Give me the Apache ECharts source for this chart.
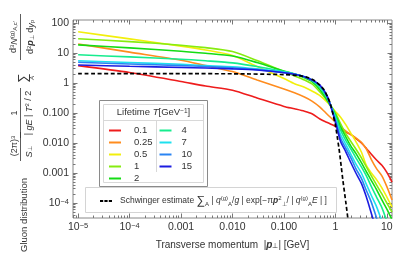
<!DOCTYPE html>
<html><head><meta charset="utf-8">
<script src="https://cdn.jsdelivr.net/npm/echarts@6/dist/echarts.min.js"></script>
<style>html,body{margin:0;padding:0;background:#fff}#c{width:415px;height:257px}</style>
</head><body><div id="c"></div>
<script>
// ---- data ----
const PT = [1e-5, 1e-4, 1e-3, 0.003, 0.01, 0.03, 0.1, 0.16, 0.25, 0.35, 0.5, 0.7, 1, 1.25, 1.6, 2, 2.5, 3.2, 4, 5, 6.3, 8, 10, 12.6];
const LIFETIMES = ['0.1', '0.25', '0.5', '1', '2', '4', '7', '10', '15'];
const G_T0_1  = [3.8, 2.24, 1.12, 0.79, 0.575, 0.316, 0.166, 0.138, 0.115, 0.095, 0.063, 0.048, 0.0355, 0.028, 0.0234, 0.019, 0.0141, 0.0100, 0.0066, 0.0042, 0.0027, 0.0018, 0.00105, 0.0005];
const G_T0_25 = [20, 10.7, 5.75, 3.8, 2.4, 1.26, 0.63, 0.47, 0.34, 0.25, 0.158, 0.089, 0.05, 0.035, 0.025, 0.019, 0.0148, 0.0105, 0.0063, 0.0028, 0.0014, 0.0008, 0.00035, 0.000126];
const G_T0_5  = [51, 29.5, 17, 12.6, 8.3, 3.55, 1.41, 0.95, 0.72, 0.54, 0.38, 0.224, 0.112, 0.074, 0.04, 0.021, 0.0112, 0.005, 0.0018, 0.001, 0.0006, 0.00032, 0.000158, 0.000074];
const G_T1    = [30, 24, 18.2, 15.1, 11.2, 5.6, 2.4, 1.74, 1.26, 0.93, 0.5, 0.25, 0.1, 0.045, 0.02, 0.0112, 0.0063, 0.0032, 0.0016, 0.0008, 0.0004, 0.0002, 0.0001, 0.00005];
const G_T2    = [18.6, 14.8, 11.5, 9.8, 7.9, 4.8, 2.5, 2.0, 1.5, 1.12, 0.6, 0.26, 0.089, 0.035, 0.0158, 0.0079, 0.0045, 0.0022, 0.0011, 0.00056, 0.00028, 0.000126, 0.000063, 0.000028];
const G_T4    = [8.7, 7.4, 6.2, 5.5, 4.7, 3.55, 2.4, 2.0, 1.58, 1.2, 0.71, 0.3, 0.079, 0.028, 0.012, 0.0063, 0.0032, 0.0016, 0.0008, 0.00035, 0.000158, 0.00007, 0.000025, 0.00001];
const G_T7    = [5.5, 4.8, 4.2, 3.8, 3.5, 2.95, 2.3, 2.0, 1.62, 1.26, 0.79, 0.33, 0.066, 0.02, 0.0089, 0.0042, 0.002, 0.001, 0.00042, 0.000178, 0.000076, 0.000025, 0.00001, 0.000004];
const G_T10   = [4.9, 4.3, 3.8, 3.55, 3.2, 2.8, 2.24, 2.0, 1.62, 1.26, 0.83, 0.34, 0.056, 0.015, 0.0066, 0.0032, 0.0014, 0.00066, 0.00026, 0.000105, 0.000032, 0.00001, 0.000004, 0.000002];
const G_T15   = [4.0, 3.6, 3.3, 3.15, 2.95, 2.7, 2.2, 1.95, 1.62, 1.26, 0.85, 0.35, 0.05, 0.0117, 0.005, 0.0022, 0.001, 0.00045, 0.000158, 0.000045, 0.0000126, 0.000004, 0.000002, 0.000001];
const PT_SCHWINGER = [1e-5, 1e-4, 1e-3, 0.01, 0.1, 0.2, 0.3, 0.4, 0.5, 0.6, 0.7, 0.8, 0.9, 1.0, 1.1, 1.2, 1.3, 1.4, 1.6, 1.8, 2.0];
const G_SCHWINGER  = [2.04, 2.04, 2.04, 2.03, 1.9, 1.75, 1.5, 1.17, 0.83, 0.6, 0.355, 0.2, 0.089, 0.04, 0.014, 0.005, 0.0016, 0.00056, 0.0001, 0.00002, 0.000004];
const SERIES_VALUES = [G_T0_1, G_T0_25, G_T0_5, G_T1, G_T2, G_T4, G_T7, G_T10, G_T15];
const X_TICKS = [1e-5, 1e-4, 1e-3, 1e-2, 0.1, 1, 10];
const X_TICK_LABELS = ['{b|10}{s|−5}', '{b|10}{s|−4}', '0.001', '0.010', '0.100', '1', '10'];
const Y_TICKS = [1e-4, 1e-3, 1e-2, 0.1, 1, 10, 100];
const Y_TICK_LABELS = ['{b|10}{s|−4}', '0.001', '0.010', '0.100', '1', '10', '100'];

// ---- styling ----
const COLORS = ['#ee1c1c', '#ff8c1e', '#f2ef0c', '#86ec10', '#14dc14', '#16ec8e', '#1ee0ee', '#2a84f2', '#1c1ce0'];
const FONT = '"Liberation Sans", Arial, sans-serif';
const TXT = '#333';
const AXC = '#777';
const X_MIN = Math.pow(10, -5.1), X_MAX = Math.pow(10, 1.1);
const Y_MIN = Math.pow(10, -4.5), Y_MAX = Math.pow(10, 2.1);

function minorTicks(lo, hi) {
  const out = [];
  for (let d = -7; d <= 3; d++) for (let k = 2; k <= 9; k++) {
    const v = k * Math.pow(10, d);
    if (v > lo && v < hi) out.push(v);
  }
  return out;
}
function labelFor(ticks, labels) {
  return v => {
    const e = Math.round(Math.log10(v));
    const i = ticks.findIndex(t => Math.round(Math.log10(t)) === e);
    return i >= 0 ? labels[i] : '';
  };
}
const richTick = {
  b: { fontSize: 10.5, color: TXT, fontFamily: FONT },
  s: { fontSize: 7.5, color: TXT, fontFamily: FONT, verticalAlign: 'top' }
};
function axisDef(kind, pos, ticks, len, withLabels, extra) {
  const base = {
    type: 'log', position: pos, logBase: 10,
    min: kind === 'x' ? X_MIN : Y_MIN, max: kind === 'x' ? X_MAX : Y_MAX,
    axisLine: { show: false },
    splitLine: { show: false },
    axisTick: { show: true, inside: true, length: len, customValues: ticks, lineStyle: { color: AXC, width: 1 } },
    axisLabel: { show: false }
  };
  if (withLabels) {
    base.axisLabel = {
      show: true, customValues: ticks, fontSize: 10.5, color: TXT, fontFamily: FONT,
      margin: kind === 'x' ? 4 : 4,
      formatter: labelFor(kind === 'x' ? X_TICKS : Y_TICKS, kind === 'x' ? X_TICK_LABELS : Y_TICK_LABELS),
      rich: richTick
    };
  }
  return Object.assign(base, extra || {});
}

const series = SERIES_VALUES.map((vals, i) => ({
  name: LIFETIMES[i], type: 'line', symbol: 'none', smooth: 0.25,
  xAxisIndex: 0, yAxisIndex: 0,
  lineStyle: { color: COLORS[i], width: 1.6 },
  itemStyle: { color: COLORS[i] },
  data: PT.map((p, j) => [p, vals[j]])
}));
series.push({
  name: 'Schwinger', type: 'line', symbol: 'none', smooth: 0.25,
  xAxisIndex: 0, yAxisIndex: 0, z: 5,
  lineStyle: { color: '#000', width: 1.7, type: [4, 2.5] },
  itemStyle: { color: '#000' },
  data: PT_SCHWINGER.map((p, j) => [p, G_SCHWINGER[j]])
});

const legendText = { fontSize: 9.5, color: TXT, fontFamily: FONT, lineHeight: 12 };
const dashIcon = 'path://M0,0h3.2v2h-3.2zM4.4,0h3.2v2h-3.2zM8.8,0h3.2v2h-3.2z';

const yTitleFont = '9.5px ' + FONT;
function vText(x, y, text, rich, size) {
  return { type: 'text', x: x, y: y, rotation: Math.PI / 2, silent: true,
    style: { text: text, fontSize: size || 9.5, fontFamily: FONT, fill: TXT, align: 'center', verticalAlign: 'middle', rich: rich || {} } };
}
function vBar(x, y1, y2) {
  return { type: 'line', silent: true, shape: { x1: x, y1: y1, x2: x, y2: y2 }, style: { stroke: TXT, lineWidth: 0.8 } };
}
const mathRich = {
  n: { fontSize: 9, fontFamily: FONT, fill: TXT, color: TXT },
  i: { fontSize: 9, fontFamily: FONT, fontStyle: 'italic', color: TXT },
  bi: { fontSize: 9, fontFamily: FONT, fontStyle: 'italic', fontWeight: 'bold', color: TXT },
  sp: { fontSize: 6, fontFamily: FONT, color: TXT, verticalAlign: 'top' },
  sb: { fontSize: 6, fontFamily: FONT, color: TXT, verticalAlign: 'bottom' },
  big: { fontSize: 13, fontFamily: FONT, color: TXT }
};

const option = {
  animation: false,
  backgroundColor: '#fff',
  grid: { left: 73, top: 20, width: 319, height: 198, show: true, borderColor: '#888', borderWidth: 1, backgroundColor: 'transparent' },
  xAxis: [
    axisDef('x', 'bottom', X_TICKS, 4.5, true, {
      name: 'Transverse momentum  |{bi|p}{sb|⊥}| [GeV]', nameLocation: 'middle', nameGap: 22,
      nameTextStyle: { fontSize: 10, color: TXT, fontFamily: FONT, rich: {
        bi: { fontSize: 10, fontStyle: 'italic', fontWeight: 'bold', color: TXT, fontFamily: FONT },
        sb: { fontSize: 7, color: TXT, fontFamily: FONT, verticalAlign: 'bottom' } } }
    }),
    axisDef('x', 'top', X_TICKS, 4.5, false),
    axisDef('x', 'bottom', minorTicks(X_MIN, X_MAX), 2.5, false),
    axisDef('x', 'top', minorTicks(X_MIN, X_MAX), 2.5, false)
  ],
  yAxis: [
    axisDef('y', 'left', Y_TICKS, 4.5, true),
    axisDef('y', 'right', Y_TICKS, 4.5, false),
    axisDef('y', 'left', minorTicks(Y_MIN, Y_MAX), 2.5, false),
    axisDef('y', 'right', minorTicks(Y_MIN, Y_MAX), 2.5, false)
  ],
  legend: [
    { data: LIFETIMES.slice(0, 5), orient: 'vertical', left: 109, top: 124.5, padding: 0, itemGap: 0,
      itemWidth: 12, itemHeight: 2, icon: 'rect', selectedMode: false,
      textStyle: Object.assign({ padding: [0, 0, 0, 8] }, legendText) },
    { data: LIFETIMES.slice(5), orient: 'vertical', left: 159.5, top: 124.5, padding: 0, itemGap: 0,
      itemWidth: 12, itemHeight: 2, icon: 'rect', selectedMode: false,
      textStyle: Object.assign({ padding: [0, 0, 0, 5] }, legendText) },
    { data: [{ name: 'Schwinger', icon: dashIcon }], left: 100, top: 195, padding: 0, itemWidth: 12, itemHeight: 2,
      selectedMode: false,
      formatter: () => 'Schwinger estimate {big|∑}{sb|A} | {i|q}{sp|(g)}{sb|A}/{i|g} | exp[−π{bi|p}{sp|2}{sb|⊥}/ | {i|q}{sp|(g)}{sb|A}{i|E} | ]',
      textStyle: { fontSize: 8.5, color: TXT, fontFamily: FONT, padding: [0, 0, 0, 3], rich: {
        i: { fontSize: 8.5, fontStyle: 'italic', color: TXT, fontFamily: FONT },
        bi: { fontSize: 8.5, fontStyle: 'italic', fontWeight: 'bold', color: TXT, fontFamily: FONT },
        sp: { fontSize: 6, color: TXT, fontFamily: FONT, verticalAlign: 'top' },
        sb: { fontSize: 6, color: TXT, fontFamily: FONT, verticalAlign: 'bottom' },
        big: { fontSize: 12, color: TXT, fontFamily: FONT }
      } } }
  ],
  graphic: [
    // legend frames
    { type: 'rect', silent: true, shape: { x: 85.5, y: 187.5, width: 251, height: 25 }, style: { fill: 'none', stroke: '#d4d4d4', lineWidth: 1 } },
    { type: 'rect', silent: true, shape: { x: 99.5, y: 100.5, width: 108, height: 86 }, style: { fill: '#fff', stroke: '#8a8a8a', lineWidth: 1 } },
    { type: 'rect', silent: true, shape: { x: 103.5, y: 104.5, width: 100, height: 78 }, style: { fill: 'none', stroke: '#d8d8d8', lineWidth: 1 } },
    { type: 'line', silent: true, shape: { x1: 103.5, y1: 120.5, x2: 203.5, y2: 120.5 }, style: { stroke: '#d8d8d8', lineWidth: 1 } },
    { type: 'line', silent: true, shape: { x1: 156.5, y1: 120.5, x2: 156.5, y2: 172 }, style: { stroke: '#d8d8d8', lineWidth: 1 } },
    { type: 'text', silent: true, x: 153.5, y: 112.5, style: { text: '{n|Lifetime }{i|T}{n|[GeV}{s|−1}{n|]}', align: 'center', verticalAlign: 'middle', rich: {
        n: { fontSize: 9.5, fontFamily: FONT, fill: TXT },
        i: { fontSize: 9.5, fontFamily: FONT, fontStyle: 'italic', fill: TXT },
        s: { fontSize: 6.5, fontFamily: FONT, fill: TXT, verticalAlign: 'top' } } } },
    // y-axis title (rotated)
    vText(24, 215, 'Gluon distribution', null, 9.5),
    vText(14.5, 146, '{n|(2π)}{sp|3}', mathRich),
    vBar(20.5, 132, 161),
    vText(29, 152, '{i|S}{sb|⊥}', mathRich),
    vText(14.5, 113, '{n|1}', mathRich),
    vBar(20.5, 88, 138),
    vText(29, 113, '{n|| }{i|gE}{n| | }{i|T}{sp|2}{n| / 2}', mathRich),
    vText(23, 78, '{big|∑}', mathRich),
    vText(32, 78, '{i|A}', { i: { fontSize: 6, fontStyle: 'italic', fontFamily: FONT, fill: TXT } }),
    vText(14, 37, '{n|d}{sp|3}{i|N}{sp|(g)}{sb|A,c′}', mathRich),
    vBar(20.5, 14, 60),
    vText(31, 37, '{n|d}{sp|2}{bi|p}{sb|⊥}{n| d}{i|y}{sb|p}', mathRich)
  ],
  series: series
};
const chart = echarts.init(document.getElementById('c'));
chart.setOption(option);
</script>
</body></html>
